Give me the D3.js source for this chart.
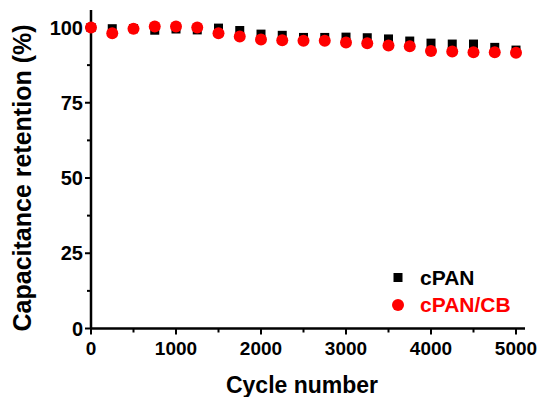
<!DOCTYPE html>
<html>
<head>
<meta charset="utf-8">
<script src="https://cdn.jsdelivr.net/npm/d3@7"></script>
<style>
  body { margin: 0; background: #fff; }
  text { font-family: Arial, "Liberation Sans", sans-serif; font-weight: bold; }
</style>
</head>
<body>
<div id="chart"></div>
<script>
// cycles every 250
var cycles = [0, 250, 500, 750, 1000, 1250, 1500, 1750, 2000, 2250, 2500,
              2750, 3000, 3250, 3500, 3750, 4000, 4250, 4500, 4750, 5000]
var cPAN = [100, 99.6, 99.6, 99.1, 99.5, 99.2, 99.8, 99.0, 97.8, 97.4, 96.7,
            96.7, 96.8, 96.6, 96.2, 95.5, 94.8, 94.5, 94.5, 93.4, 92.5]
var cPANCB = [100, 98.1, 99.6, 100.3, 100.3, 100, 98.1, 97.0, 96.0, 95.8, 95.6,
              95.6, 95.0, 94.8, 94.0, 93.8, 92.2, 92.0, 91.8, 91.8, 91.6]
var xTicks = [0, 1000, 2000, 3000, 4000, 5000]
var yTicks = [0, 25, 50, 75, 100]

var width = 539
    height = 397

var svg = d3.select("#chart")
  .append("svg")
    .attr("width", width)
    .attr("height", height)

var x = d3.scaleLinear().domain([0, 5000]).range([91, 516])
var y = d3.scaleLinear().domain([0, 100]).range([328.5, 27.5])

// x axis
var xAxis = svg.append("g")
  .attr("transform", "translate(0," + y(0) + ")")
xAxis.append("line")
  .attr("x1", x(0)).attr("x2", 525)
  .attr("stroke", "black").attr("stroke-width", 2.5)
xAxis.selectAll("minor")
  .data(d3.range(0, 5001, 500))
  .enter().append("line")
    .attr("x1", function(d) { return x(d) }).attr("x2", function(d) { return x(d) })
    .attr("y1", 0).attr("y2", function(d) { return d % 1000 == 0 ? 6 : 4 })
    .attr("stroke", "black").attr("stroke-width", 2)
xAxis.selectAll("lbl")
  .data(xTicks)
  .enter().append("text")
    .attr("x", function(d) { return x(d) })
    .attr("y", 26)
    .attr("text-anchor", "middle")
    .style("font-size", "19px")
    .text(function(d) { return d })

// y axis
var yAxis = svg.append("g")
  .attr("transform", "translate(" + x(0) + ",0)")
yAxis.append("line")
  .attr("y1", y(0)).attr("y2", 10)
  .attr("stroke", "black").attr("stroke-width", 2.5)
yAxis.selectAll("minor")
  .data(d3.range(0, 101, 12.5))
  .enter().append("line")
    .attr("y1", function(d) { return y(d) }).attr("y2", function(d) { return y(d) })
    .attr("x1", 0).attr("x2", function(d) { return d % 25 == 0 ? -6 : -4 })
    .attr("stroke", "black").attr("stroke-width", 2)
yAxis.selectAll("lbl")
  .data(yTicks)
  .enter().append("text")
    .attr("x", -8)
    .attr("y", function(d) { return y(d) })
    .attr("dy", "0.35em")
    .attr("text-anchor", "end")
    .style("font-size", "20px")
    .text(function(d) { return d })

// titles
svg.append("text")
  .attr("x", 302).attr("y", 393)
  .attr("text-anchor", "middle")
  .style("font-size", "23px")
  .text("Cycle number")
svg.append("text")
  .attr("transform", "translate(31,178) rotate(-90)")
  .attr("text-anchor", "middle")
  .style("font-size", "25px")
  .text("Capacitance retention (%)")

// series
svg.selectAll("sq")
  .data(cycles)
  .enter().append("rect")
    .attr("x", function(d) { return x(d) - 4.5 })
    .attr("y", function(d, i) { return y(cPAN[i]) - 4.5 })
    .attr("width", 9).attr("height", 9)
    .attr("fill", "black")
svg.selectAll("dot")
  .data(cycles)
  .enter().append("circle")
    .attr("cx", function(d) { return x(d) })
    .attr("cy", function(d, i) { return y(cPANCB[i]) })
    .attr("r", 6)
    .attr("fill", "#ff0000")

// legend
var legend = svg.append("g")
legend.append("rect")
  .attr("x", 393.5).attr("y", 273).attr("width", 9).attr("height", 9)
  .attr("fill", "black")
legend.append("text")
  .attr("x", 420).attr("y", 278).attr("dy", "0.35em")
  .style("font-size", "21px")
  .text("cPAN")
legend.append("circle")
  .attr("cx", 398).attr("cy", 305).attr("r", 6)
  .attr("fill", "#ff0000")
legend.append("text")
  .attr("x", 420).attr("y", 305).attr("dy", "0.35em")
  .style("font-size", "21px")
  .attr("fill", "#ff0000")
  .text("cPAN/CB")
</script>
</body>
</html>
